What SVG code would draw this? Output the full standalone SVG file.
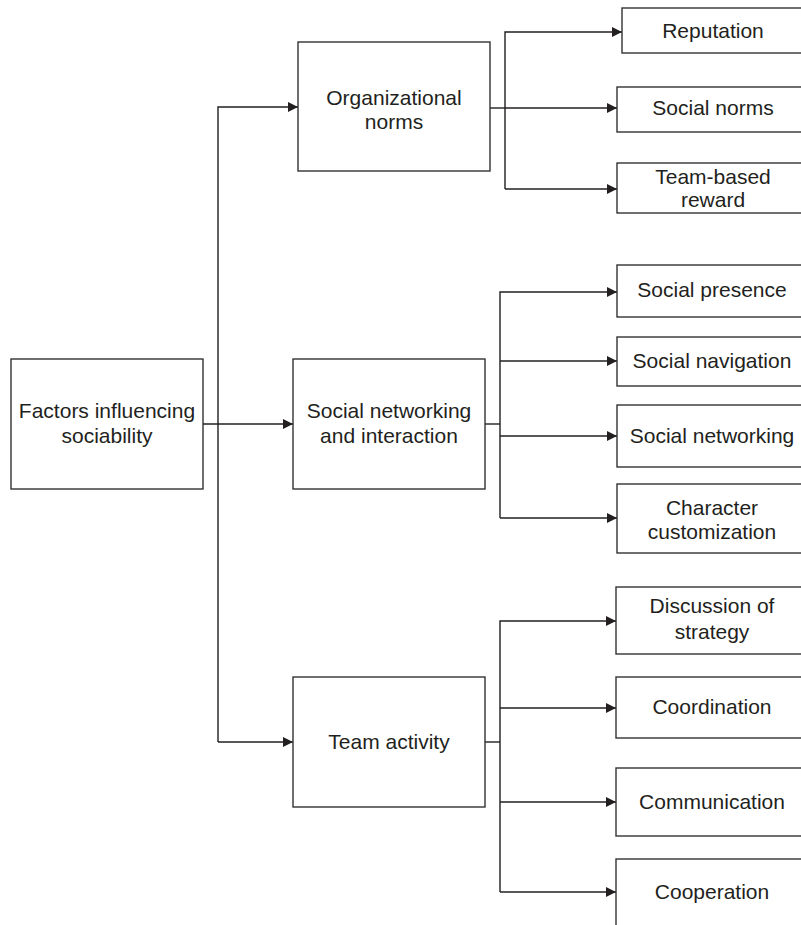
<svg xmlns="http://www.w3.org/2000/svg" width="801" height="925" viewBox="0 0 801 925">
<style>
.box{fill:#fff;stroke:#333;stroke-width:1.4}
.lbl{font-family:"Liberation Sans",Arial,sans-serif;font-size:21px;fill:#231f20;text-anchor:middle}
.con{fill:none;stroke:#231f20;stroke-width:1.4}
</style>
<defs>
<marker id="arr" markerWidth="10" markerHeight="10" refX="10" refY="5" orient="auto" markerUnits="userSpaceOnUse">
<path d="M0,0 L10,5 L0,10 Z" fill="#231f20"/>
</marker>
</defs>
<rect width="801" height="925" fill="#fff"/>
<g id="connectors">
<path class="con" d="M218,742 V107 H298" marker-end="url(#arr)"/>
<path class="con" d="M203,424 H293" marker-end="url(#arr)"/>
<path class="con" d="M218,742 H293" marker-end="url(#arr)"/>
<path class="con" d="M490,108 H505"/>
<path class="con" d="M505,189 V32 H622" marker-end="url(#arr)"/>
<path class="con" d="M505,108 H617" marker-end="url(#arr)"/>
<path class="con" d="M505,189 H617" marker-end="url(#arr)"/>
<path class="con" d="M485,424 H500"/>
<path class="con" d="M500,518 V292 H617" marker-end="url(#arr)"/>
<path class="con" d="M500,361 H617" marker-end="url(#arr)"/>
<path class="con" d="M500,436 H617" marker-end="url(#arr)"/>
<path class="con" d="M500,518 H617" marker-end="url(#arr)"/>
<path class="con" d="M485,742 H500"/>
<path class="con" d="M500,892 V621 H616" marker-end="url(#arr)"/>
<path class="con" d="M500,708 H616" marker-end="url(#arr)"/>
<path class="con" d="M500,802 H616" marker-end="url(#arr)"/>
<path class="con" d="M500,892 H616" marker-end="url(#arr)"/>
</g>
<g id="factors">
<rect class="box" x="11" y="359" width="192" height="130"/>
<text class="lbl" x="107" y="418">Factors influencing</text>
<text class="lbl" x="107" y="443">sociability</text>
</g>
<g id="org-norms">
<rect class="box" x="298" y="42" width="192" height="129"/>
<text class="lbl" x="394" y="105">Organizational</text>
<text class="lbl" x="394" y="129">norms</text>
</g>
<g id="social-networking-interaction">
<rect class="box" x="293" y="359" width="192" height="130"/>
<text class="lbl" x="389" y="418">Social networking</text>
<text class="lbl" x="389" y="443">and interaction</text>
</g>
<g id="team-activity">
<rect class="box" x="293" y="677" width="192" height="130"/>
<text class="lbl" x="389" y="749">Team activity</text>
</g>
<g id="reputation">
<rect class="box" x="622" y="8" width="188" height="45"/>
<text class="lbl" x="713" y="38">Reputation</text>
</g>
<g id="social-norms">
<rect class="box" x="617" y="87" width="193" height="45"/>
<text class="lbl" x="713" y="115">Social norms</text>
</g>
<g id="team-based-reward">
<rect class="box" x="617" y="163" width="193" height="50"/>
<text class="lbl" x="713" y="184">Team-based</text>
<text class="lbl" x="713" y="207">reward</text>
</g>
<g id="social-presence">
<rect class="box" x="617" y="265" width="193" height="52"/>
<text class="lbl" x="712" y="297">Social presence</text>
</g>
<g id="social-navigation">
<rect class="box" x="617" y="337" width="193" height="49"/>
<text class="lbl" x="712" y="368">Social navigation</text>
</g>
<g id="social-networking">
<rect class="box" x="617" y="405" width="193" height="62"/>
<text class="lbl" x="712" y="443">Social networking</text>
</g>
<g id="character-customization">
<rect class="box" x="617" y="484" width="193" height="69"/>
<text class="lbl" x="712" y="515">Character</text>
<text class="lbl" x="712" y="539">customization</text>
</g>
<g id="discussion-of-strategy">
<rect class="box" x="616" y="587" width="194" height="67"/>
<text class="lbl" x="712" y="613">Discussion of</text>
<text class="lbl" x="712" y="639">strategy</text>
</g>
<g id="coordination">
<rect class="box" x="616" y="677" width="194" height="61"/>
<text class="lbl" x="712" y="714">Coordination</text>
</g>
<g id="communication">
<rect class="box" x="616" y="768" width="194" height="68"/>
<text class="lbl" x="712" y="809">Communication</text>
</g>
<g id="cooperation">
<rect class="box" x="616" y="859" width="194" height="80"/>
<text class="lbl" x="712" y="899">Cooperation</text>
</g>
</svg>
